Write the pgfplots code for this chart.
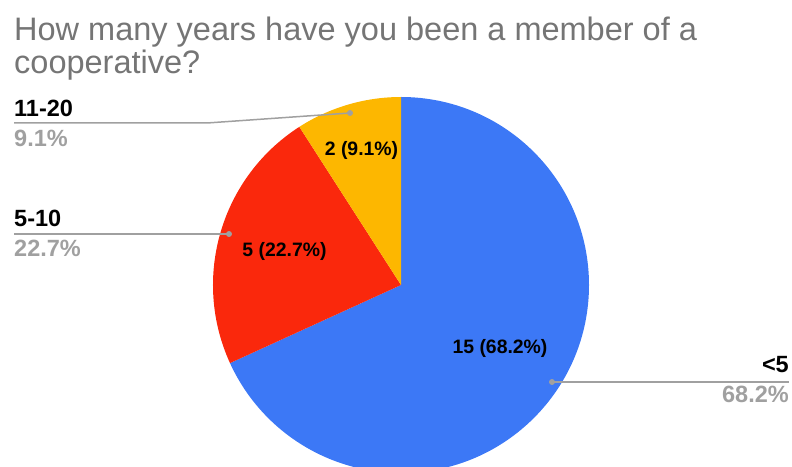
\documentclass[border=0pt]{standalone}
\usepackage{pgfplots}
\pgfplotsset{compat=1.18}
\usepackage{fontspec}
\setmainfont{Liberation Sans}
\definecolor{pblue}{RGB}{60,120,246}
\definecolor{pred}{RGB}{250,40,12}
\definecolor{pyellow}{RGB}{253,183,0}
\definecolor{titlegray}{RGB}{117,117,117}
\definecolor{pctgray}{RGB}{160,160,160}
\definecolor{linegray}{RGB}{160,160,160}
\begin{document}
\begin{tikzpicture}
\path[use as bounding box] (0,0) rectangle (792bp,467bp);
% data: counts for <5, 5-10, 11-20
\def\vA{15}\def\vB{5}\def\vC{2}
\pgfmathsetmacro\tot{\vA+\vB+\vC}
\pgfmathsetmacro\aA{90}
\pgfmathsetmacro\aB{\aA-360*\vA/\tot}
\pgfmathsetmacro\aC{\aB-360*\vB/\tot}
\pgfmathsetmacro\aD{\aC-360*\vC/\tot}
\def\R{188bp}
\begin{axis}[hide axis, scale only axis, width=792bp, height=467bp,
  xmin=0, xmax=792, ymin=0, ymax=467, clip=true, anchor=south west, at={(0,0)}]
\fill[pblue] (401,182) -- ++(\aA:\R) arc[start angle=\aA, end angle=\aB, radius=\R] -- cycle;
\fill[pred] (401,182) -- ++(\aB:\R) arc[start angle=\aB, end angle=\aC, radius=\R] -- cycle;
\fill[pyellow] (401,182) -- ++(\aC:\R) arc[start angle=\aC, end angle=\aD, radius=\R] -- cycle;
% title
\node[anchor=base west, text=titlegray, font=\fontsize{32.5bp}{36bp}\selectfont, inner sep=0pt] at (14,426) {How many years have you been a member of a};
\node[anchor=base west, text=titlegray, font=\fontsize{32.5bp}{36bp}\selectfont, inner sep=0pt] at (14,393) {cooperative?};
% leader lines
\draw[linegray, line width=1.5bp] (14,344) -- (207,344) -- (350,354);
\fill[linegray] (350,354) circle[radius=3bp];
\draw[linegray, line width=1.5bp] (14,233) -- (229,233);
\fill[linegray] (229,233) circle[radius=3bp];
\draw[linegray, line width=1.5bp] (552,85) -- (789,85);
\fill[linegray] (552,85) circle[radius=3bp];
% outside labels
\node[anchor=base west, inner sep=0pt, font=\fontsize{23.5bp}{27bp}\selectfont\bfseries] at (14,350) {11-20};
\node[anchor=base west, inner sep=0pt, text=pctgray, font=\fontsize{23.5bp}{27bp}\selectfont\bfseries] at (14,320) {9.1\%};
\node[anchor=base west, inner sep=0pt, font=\fontsize{23.5bp}{27bp}\selectfont\bfseries] at (14,240) {5-10};
\node[anchor=base west, inner sep=0pt, text=pctgray, font=\fontsize{23.5bp}{27bp}\selectfont\bfseries] at (14,210) {22.7\%};
\node[anchor=base east, inner sep=0pt, font=\fontsize{23.5bp}{27bp}\selectfont\bfseries] at (789,94) {<5};
\node[anchor=base east, inner sep=0pt, text=pctgray, font=\fontsize{23.5bp}{27bp}\selectfont\bfseries] at (789,64) {68.2\%};
% data labels
\node[anchor=base, inner sep=0pt, font=\fontsize{19.4bp}{23bp}\selectfont\bfseries] at (361.5,311) {2 (9.1\%)};
\node[anchor=base, inner sep=0pt, font=\fontsize{19.4bp}{23bp}\selectfont\bfseries] at (284.5,210.5) {5 (22.7\%)};
\node[anchor=base, inner sep=0pt, font=\fontsize{19.4bp}{23bp}\selectfont\bfseries] at (500,113) {15 (68.2\%)};
\end{axis}
\end{tikzpicture}
\end{document}
